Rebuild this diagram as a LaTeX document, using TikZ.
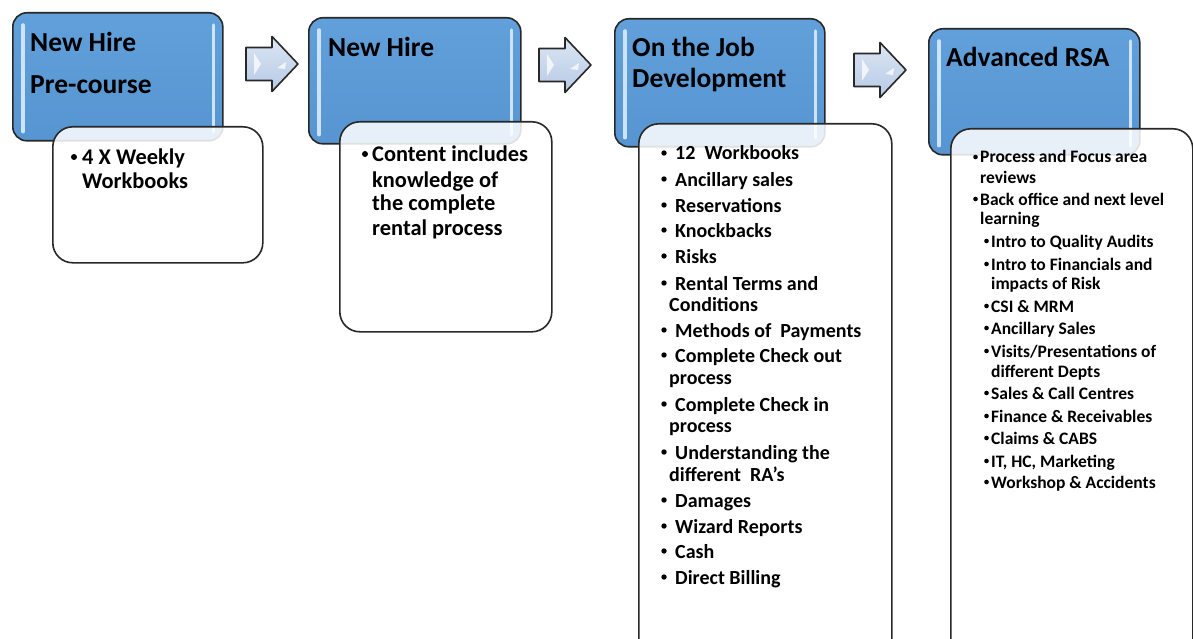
\documentclass[tikz,border=0pt]{standalone}
\usepackage{fontspec}
\setmainfont{Carlito}
\definecolor{edge}{RGB}{40,40,40}
\definecolor{blueT}{RGB}{97,160,218}
\definecolor{blueB}{RGB}{86,149,209}
\definecolor{stripc}{RGB}{205,227,246}
\definecolor{arrT}{RGB}{220,230,243}
\definecolor{arrB}{RGB}{182,201,229}
\tikzset{
  bluebox/.style={draw=edge, line width=1.6pt, rounded corners=14pt, top color=blueT, bottom color=blueB, anchor=north west, inner sep=0pt},
  whitebox/.style={draw=edge, line width=1.6pt, rounded corners=20pt, fill=white, fill opacity=0.86, anchor=north west, inner sep=0pt},
  strip/.style={line width=3.5pt, line cap=round, draw=stripc},
  blockarrow/.style={draw=edge, line width=1.6pt, line join=round, top color=arrT, bottom color=arrB},
  ttl/.style={anchor=base west, inner sep=0pt, font=\fontsize{27.5}{30}\selectfont\bfseries},
  txtA/.style={anchor=base west, inner sep=0pt, font=\fontsize{22.4}{24}\selectfont\bfseries},
  txtB/.style={anchor=base west, inner sep=0pt, font=\fontsize{20}{22}\selectfont\bfseries},
  txtC/.style={anchor=base west, inner sep=0pt, font=\fontsize{17.5}{20}\selectfont\bfseries},
  bulA/.style={circle, fill=black, inner sep=0pt, minimum size=6pt},
  bulB/.style={circle, fill=black, inner sep=0pt, minimum size=5.4pt},
  bulC/.style={circle, fill=black, inner sep=0pt, minimum size=4.6pt},
  blockarr/.pic={
    \draw[blockarrow] (0,-16.5) -- (26,-16.5) -- (26,-27.5) -- (52,0) -- (26,27.5) -- (26,16.5) -- (0,16.5) -- cycle;
    \fill[white, opacity=0.75] (8,-11) -- (15,0) -- (8,11) -- cycle;
    \fill[white, opacity=0.75] (31,4) -- (40,-2) -- (39,5) -- cycle;
  }
}
\begin{document}
\begin{tikzpicture}[x=1pt, y=-1pt]
\useasboundingbox (0,0) rectangle (1193,639);
\clip (0,0) rectangle (1193,639);
\fill[white] (0,0) rectangle (1193,639);

% blue header boxes
\node[bluebox, minimum width=210pt, minimum height=128pt] (b1) at (12,12) {};
\node[bluebox, minimum width=212pt, minimum height=126pt] (b2) at (308,17) {};
\node[bluebox, minimum width=210pt, minimum height=128pt] (b3) at (614,18) {};
\node[bluebox, minimum width=211pt, minimum height=126pt] (b4) at (928,28) {};
\foreach \b in {b1,b2,b3,b4}{
  \draw[strip] ([xshift=11pt,yshift=-13pt]\b.north west) -- ([xshift=11pt,yshift=10pt]\b.south west);
  \draw[strip] ([xshift=-10pt,yshift=-13pt]\b.north east) -- ([xshift=-10pt,yshift=10pt]\b.south east);
}

% titles
\node[ttl] (t1a) at (30,52) {New Hire};
\node[ttl] (t1b) at (30,94) {Pre-course};
\node[ttl] (t2a) at (328,57) {New Hire};
\node[ttl] (t3a) at (632,57) {On the Job};
\node[ttl] (t3b) at (632,88) {Development};
\node[ttl] (t4a) at (946,67) {Advanced RSA};

% white detail boxes
\node[whitebox, minimum width=210pt, minimum height=136pt] (w1) at (52,126) {};
\node[whitebox, minimum width=212pt, minimum height=210pt] (w2) at (339,121) {};
\node[whitebox, minimum width=253pt, minimum height=540pt] (w3) at (638,123) {};
\node[whitebox, minimum width=242pt, minimum height=540pt] (w4) at (950,128) {};

% arrows
\pic at (246,64) {blockarr};
\pic at (539,65) {blockarr};
\pic at (854,70) {blockarr};

% box 1 text
\node[bulA] (d1) at (74,157) {};
\node[txtA] (c1a) at (82,165) {4 X Weekly};
\node[txtA] (c1b) at (82,189) {Workbooks};

% box 2 text
\node[bulA] (d2) at (365,154) {};
\foreach \yy/\t [count=\k] in {162/{Content includes},187/{knowledge of},211/{the complete},235/{rental process}}{
  \node[txtA] (c2-\k) at (372,\yy) {\t};
}

% box 3 text
\foreach \yy/\xx/\bb/\t [count=\k] in {
  160/675/1/{12\ \ Workbooks},
  186/675/1/{Ancillary sales},
  212/675/1/{Reservations},
  237/675/1/{Knockbacks},
  263/675/1/{Risks},
  290/675/1/{Rental Terms and},
  311/669/0/{Conditions},
  337/675/1/{Methods of\ \ Payments},
  362/675/1/{Complete Check out},
  384/669/0/{process},
  411/675/1/{Complete Check in},
  432/669/0/{process},
  459/675/1/{Understanding the},
  481/669/0/{different\ \ RA's},
  507/675/1/{Damages},
  533/675/1/{Wizard Reports},
  558/675/1/{Cash},
  584/675/1/{Direct Billing}}{
  \node[txtB] (c3-\k) at (\xx,\yy) {\t};
  \ifnum\bb=1 \node[bulB] (d3-\k) at (664,\yy-7) {}; \fi
}

% box 4 text
\foreach \yy/\xx/\bb/\t [count=\k] in {
  163/980/1/{Process and Focus area},
  183/980/0/{reviews},
  205/980/1/{Back office and next level},
  224/980/0/{learning},
  247/991/2/{Intro to Quality Audits},
  270/991/2/{Intro to Financials and},
  289/991/0/{impacts of Risk},
  312/991/2/{CSI \& MRM},
  334/991/2/{Ancillary Sales},
  357/991/2/{Visits/Presentations of},
  377/991/0/{different Depts},
  399/991/2/{Sales \& Call Centres},
  422/991/2/{Finance \& Receivables},
  444/991/2/{Claims \& CABS},
  467/991/2/{IT, HC, Marketing},
  488/991/2/{Workshop \& Accidents}}{
  \node[txtC] (c4-\k) at (\xx,\yy) {\t};
  \ifnum\bb=1 \node[bulC] (d4-\k) at (975.5,\yy-6) {}; \fi
  \ifnum\bb=2 \node[bulC] (d4-\k) at (986.5,\yy-6) {}; \fi
}
\end{tikzpicture}
\end{document}
